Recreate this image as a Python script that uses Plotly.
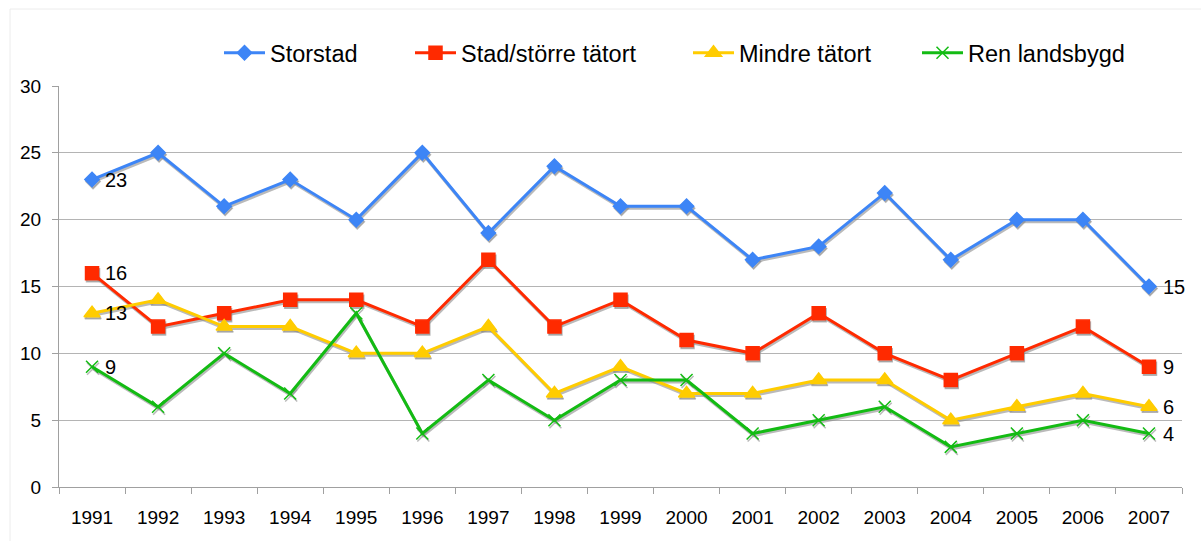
import plotly.graph_objects as go

years = ["1991", "1992", "1993", "1994", "1995", "1996", "1997", "1998", "1999",
         "2000", "2001", "2002", "2003", "2004", "2005", "2006", "2007"]

storstad = [23, 25, 21, 23, 20, 25, 19, 24, 21, 21, 17, 18, 22, 17, 20, 20, 15]
stad = [16, 12, 13, 14, 14, 12, 17, 12, 14, 11, 10, 13, 10, 8, 10, 12, 9]
mindre = [13, 14, 12, 12, 10, 10, 12, 7, 9, 7, 7, 8, 8, 5, 6, 7, 6]
ren = [9, 6, 10, 7, 13, 4, 8, 5, 8, 8, 4, 5, 6, 3, 4, 5, 4]

names = ["Storstad", "Stad/större tätort", "Mindre tätort", "Ren landsbygd"]
colors = ["#3d85f6", "#ff2a00", "#ffcc00", "#13bb13"]
symbols = ["diamond", "square", "triangle-up", "x-thin-open"]
sizes = [11, 13, 14, 12]
series = [storstad, stad, mindre, ren]

FONT = "Liberation Sans, Arial, sans-serif"
W, H = 1201, 541
L, R, T, B = 59, 19, 86, 54
PW, PH = W - L - R, H - T - B
px_x = (len(years)) / PW      # category units per pixel
px_y = 30.0 / PH              # y units per pixel

fig = go.Figure()

SH = "rgba(140,140,140,0.6)"
# shadows on base (hidden, shifted) axes
for vals, sym, sz in zip(series, symbols, sizes):
    fig.add_trace(go.Scatter(
        x=years, y=vals, mode="lines+markers", showlegend=False, hoverinfo="skip",
        line=dict(color=SH, width=3),
        marker=dict(symbol=sym, size=sz, color=SH, line=dict(color=SH, width=1.5)),
        xaxis="x", yaxis="y"))

legend_x = [219, 410, 688, 917]
for i, (vals, name, c, sym, sz) in enumerate(zip(series, names, colors, symbols, sizes)):
    lg = "legend" if i == 0 else f"legend{i+1}"
    fig.add_trace(go.Scatter(
        x=years, y=vals, mode="lines+markers", name=name, legend=lg,
        line=dict(color=c, width=3),
        marker=dict(symbol=sym, size=sz, color=c, line=dict(color=c, width=1.5)),
        xaxis="x2", yaxis="y2"))

legends = {}
for i, lx in enumerate(legend_x):
    key = "legend" if i == 0 else f"legend{i+1}"
    legends[key] = dict(
        x=(lx - L) / PW, xanchor="left", y=(H - B - 53) / PH, yanchor="middle",
        orientation="h", bgcolor="rgba(0,0,0,0)", borderwidth=0,
        font=dict(family=FONT, size=23.5, color="#000000"), itemwidth=41)

# end labels (category index positions)
last = len(years) - 1
for vals in series:
    fig.add_annotation(x=0, y=vals[0], xref="x2", yref="y2", text=str(vals[0]),
                       showarrow=False, xanchor="left", yanchor="middle", xshift=11,
                       font=dict(family=FONT, size=20, color="#000000"))
    fig.add_annotation(x=last, y=vals[-1], xref="x2", yref="y2", text=str(vals[-1]),
                       showarrow=False, xanchor="left", yanchor="middle", xshift=12,
                       font=dict(family=FONT, size=20, color="#000000"))

# faint outer frame
fig.add_shape(type="rect", xref="paper", yref="paper",
              x0=(10 - L) / PW, x1=(W + 20 - L) / PW,
              y0=-(B + 20) / PH, y1=(H - B - 9) / PH,
              line=dict(color="#ececec", width=1), fillcolor="rgba(0,0,0,0)", layer="below")

fig.update_layout(
    width=W, height=H,
    margin=dict(l=L, r=R, t=T, b=B),
    paper_bgcolor="white", plot_bgcolor="white",
    font=dict(family=FONT, size=19, color="#000000"),
    xaxis=dict(type="category", range=[-0.5 - 1 * px_x, 16.5 - 1 * px_x], visible=False,
               fixedrange=True),
    yaxis=dict(range=[0 + 2 * px_y, 30 + 2 * px_y], visible=False, fixedrange=True),
    xaxis2=dict(type="category", overlaying="x", anchor="y2", range=[-0.5, 16.5],
                tickson="boundaries", ticks="outside", ticklen=6, tickcolor="#a0a0a0",
                showline=True, linecolor="#a0a0a0", linewidth=1, showgrid=False,
                ticklabelstandoff=13,
                tickfont=dict(family=FONT, size=19, color="#000000"), side="bottom"),
    yaxis2=dict(overlaying="y", anchor="x2", range=[0, 30], dtick=5, tick0=0,
                ticks="outside", ticklen=6, tickcolor="#a0a0a0",
                showline=True, linecolor="#a0a0a0", linewidth=1,
                showgrid=True, gridcolor="#b4b4b4", gridwidth=1, zeroline=False,
                ticklabelstandoff=7,
                tickfont=dict(family=FONT, size=19, color="#000000"), side="left"),
    **legends,
)

fig.write_html("out.html", config={"displayModeBar": False},
               post_script="document.body.style.margin='0';")
